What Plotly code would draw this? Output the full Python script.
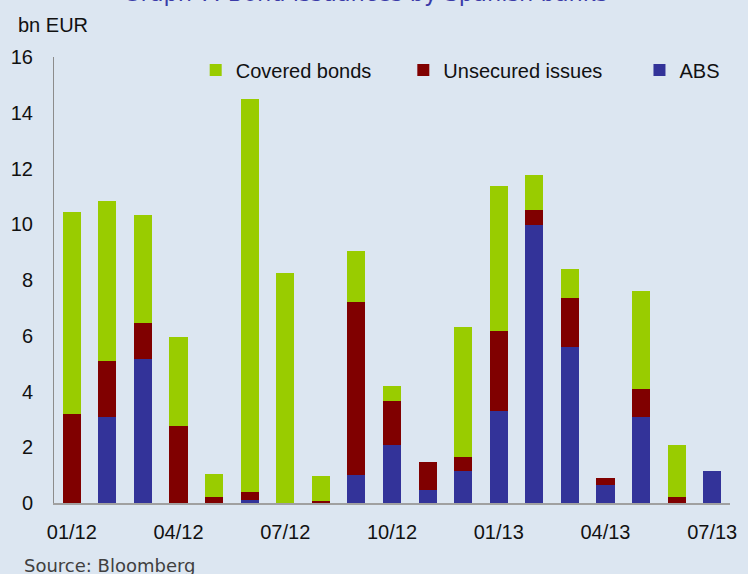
import plotly.graph_objects as go

months = ["01/12", "02/12", "03/12", "04/12", "05/12", "06/12", "07/12", "08/12", "09/12",
          "10/12", "11/12", "12/12", "01/13", "02/13", "03/13", "04/13", "05/13", "06/13", "07/13"]
abs_issues = [0, 3.1, 5.15, 0, 0, 0.12, 0, 0, 1.0, 2.08, 0.48, 1.16, 3.3, 9.98, 5.6, 0.66, 3.1, 0, 1.15]
unsecured = [3.2, 2.0, 1.32, 2.76, 0.23, 0.29, 0, 0.06, 6.2, 1.58, 1.0, 0.49, 2.86, 0.52, 1.77, 0.25, 0.99, 0.23, 0]
covered = [7.25, 5.72, 3.85, 3.2, 0.8, 14.07, 8.26, 0.91, 1.83, 0.52, 0, 4.68, 5.23, 1.25, 1.01, 0, 3.53, 1.86, 0]
tick_labels = ["01/12", "04/12", "07/12", "10/12", "01/13", "04/13", "07/13"]

bg = "#dce6f1"
axis_font = dict(family="Liberation Sans, Arial, sans-serif", size=20, color="#111111")

fig = go.Figure()
fig.add_trace(go.Bar(x=months, y=abs_issues, name="ABS",
                     marker=dict(color="#333399", line=dict(width=0)), legend="legend3"))
fig.add_trace(go.Bar(x=months, y=unsecured, name="Unsecured issues",
                     marker=dict(color="#800000", line=dict(width=0)), legend="legend2"))
fig.add_trace(go.Bar(x=months, y=covered, name="Covered bonds",
                     marker=dict(color="#99cc00", line=dict(width=0)), legend="legend"))

leg = dict(orientation="h", yanchor="middle", y=0.971, xanchor="left",
           bgcolor="rgba(0,0,0,0)", font=axis_font)

fig.update_layout(
    width=748, height=574,
    margin=dict(l=50, r=11, t=57, b=71),
    paper_bgcolor=bg, plot_bgcolor=bg,
    barmode="stack", bargap=0.49,
    font=axis_font,
    showlegend=True,
    legend=dict(leg, x=(194 - 50) / 687),
    legend2=dict(leg, x=(405 - 50) / 687),
    legend3=dict(leg, x=(645 - 50) / 687),
    xaxis=dict(type="category", range=[-0.5, 18.5], tickmode="array",
               tickvals=tick_labels, ticktext=tick_labels,
               showline=True, linecolor="#a0a0a0", linewidth=2,
               showgrid=False, ticks="", ticklabelstandoff=10, zeroline=False),
    yaxis=dict(range=[0, 16], dtick=2, showline=True, linecolor="#8c8c8c", linewidth=1,
               showgrid=False, ticks="", ticklabelstandoff=16, zeroline=False),
    annotations=[
        dict(text="Graph 7. Bond issuances by Spanish banks", xref="paper", yref="paper",
             x=(367 - 50) / 687, y=1 + (57 - 8) / 446, xanchor="center", yanchor="bottom",
             showarrow=False, font=dict(family="DejaVu Sans", size=22.5, color="#3b3ba8")),
        dict(text="bn EUR", xref="paper", yref="paper",
             x=(11 - 50) / 687, y=1 + (57 - 25) / 446, xanchor="left", yanchor="middle",
             showarrow=False, font=axis_font),
        dict(text="Source: Bloomberg", xref="paper", yref="paper",
             x=(17 - 50) / 687, y=-(565 - 503) / 446, xanchor="left", yanchor="middle",
             showarrow=False, font=dict(family="DejaVu Sans", size=18, color="#404040")),
    ],
)

fig.write_html("out.html", config={"displayModeBar": False},
               post_script="document.body.style.margin='0';")
